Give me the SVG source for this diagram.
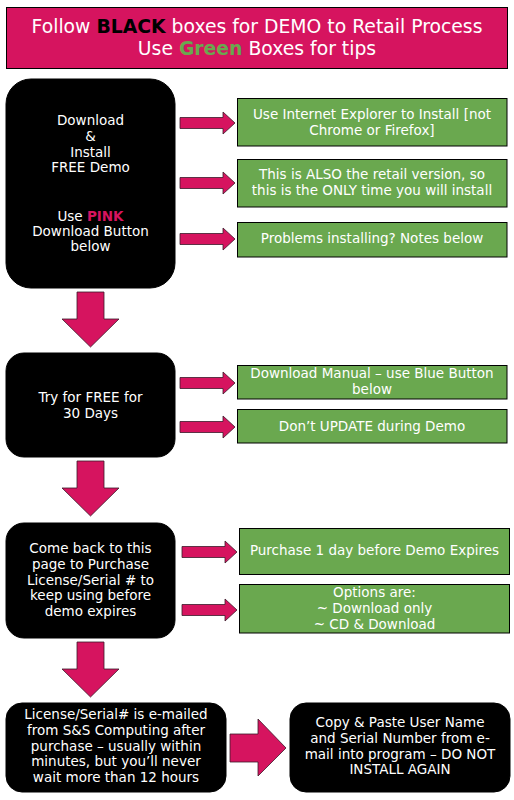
<svg xmlns="http://www.w3.org/2000/svg" width="514" height="800" viewBox="0 0 514 800">
<defs>
<style>
text{font-family:"DejaVu Sans","Verdana",sans-serif;font-size:13.5px;fill:#fff;text-anchor:middle}
.title{font-size:18.8px}
.blk{fill:#000;stroke:#000}
.grn{fill:#6AA84F;stroke:#000;stroke-width:1}
.arr{fill:#D6145F;stroke:#3a1a2a;stroke-width:0.8}
.b{font-weight:bold}
</style>
</defs>
<rect width="514" height="800" fill="#fff"/>
<g id="title">
<rect x="6.5" y="7.5" width="501" height="61" fill="#D6145F" stroke="#000" stroke-width="1"/>
<text class="title" x="257" y="33">Follow <tspan class="b" style="fill:#000">BLACK</tspan> boxes for DEMO to Retail Process</text>
<text class="title" x="257" y="55">Use <tspan class="b" style="fill:#6AA84F">Green</tspan> Boxes for tips</text>
</g>
<g id="connectors">
<path class="arr" d="M180,117.5H223V112L235,123L223,134V128.5H180Z"/>
<path class="arr" d="M180,177.5H223V172L235,183L223,194V188.5H180Z"/>
<path class="arr" d="M180,233.5H223V228L235,239L223,250V244.5H180Z"/>
<path class="arr" d="M77,292H104V319H119L90.5,347L62,319H77Z"/>
<path class="arr" d="M180,377.5H223V372L235,383L223,394V388.5H180Z"/>
<path class="arr" d="M180,421.5H223V416L235,427L223,438V432.5H180Z"/>
<path class="arr" d="M77,461H104V488H119L90.5,516L62,488H77Z"/>
<path class="arr" d="M182,546.5H225V541L237,552L225,563V557.5H182Z"/>
<path class="arr" d="M182,604.5H225V599L237,610L225,621V615.5H182Z"/>
<path class="arr" d="M77,642H104V669H119L90.5,697L62,669H77Z"/>
<path class="arr" d="M230,734H258V719L286,748L258,776V762H230Z"/>
</g>
<g id="n1">
<rect class="blk" x="6" y="79" width="169" height="209" rx="25"/>
<text x="90.5" y="125">Download</text>
<text x="90.5" y="141">&amp;</text>
<text x="90.5" y="157">Install</text>
<text x="90.5" y="172">FREE Demo</text>
<text x="90.5" y="221">Use <tspan class="b" style="fill:#D6145F">PINK</tspan></text>
<text x="90.5" y="236">Download Button</text>
<text x="90.5" y="251">below</text>
</g>
<g id="t1">
<rect class="grn" x="237.5" y="98.5" width="269.5" height="47.5"/>
<text x="372" y="119">Use Internet Explorer to Install [not</text>
<text x="372" y="135">Chrome or Firefox]</text>
</g>
<g id="t2">
<rect class="grn" x="237.5" y="159.5" width="269.5" height="47.5"/>
<text x="372" y="179">This is ALSO the retail version, so</text>
<text x="372" y="195">this is the ONLY time you will install</text>
</g>
<g id="t3">
<rect class="grn" x="237.5" y="222.5" width="269.5" height="34.5"/>
<text x="372" y="243">Problems installing? Notes below</text>
</g>
<g id="n2">
<rect class="blk" x="6" y="353" width="169" height="104" rx="18"/>
<text x="90.5" y="402">Try for FREE for</text>
<text x="90.5" y="418">30 Days</text>
</g>
<g id="t4">
<rect class="grn" x="237.5" y="365.5" width="269.5" height="33.5"/>
<text x="372" y="378">Download Manual – use Blue Button</text>
<text x="372" y="394">below</text>
</g>
<g id="t5">
<rect class="grn" x="237.5" y="409.5" width="269.5" height="33.5"/>
<text x="372" y="431">Don’t UPDATE during Demo</text>
</g>
<g id="n3">
<rect class="blk" x="6" y="523" width="169" height="115" rx="18"/>
<text x="90.5" y="553">Come back to this</text>
<text x="90.5" y="569">page to Purchase</text>
<text x="90.5" y="585">License/Serial # to</text>
<text x="90.5" y="600">keep using before</text>
<text x="90.5" y="616">demo expires</text>
</g>
<g id="t6">
<rect class="grn" x="239.5" y="528.5" width="270" height="46"/>
<text x="374.5" y="555">Purchase 1 day before Demo Expires</text>
</g>
<g id="t7">
<rect class="grn" x="239.5" y="584.5" width="270" height="48.5"/>
<text x="374.5" y="597">Options are:</text>
<text x="374.5" y="613">~ Download only</text>
<text x="374.5" y="629">~ CD &amp; Download</text>
</g>
<g id="n4">
<rect class="blk" x="6" y="703" width="220" height="89" rx="16"/>
<text x="116" y="719">License/Serial# is e-mailed</text>
<text x="116" y="735">from S&amp;S Computing after</text>
<text x="116" y="751">purchase – usually within</text>
<text x="116" y="766">minutes, but you’ll never</text>
<text x="116" y="782">wait more than 12 hours</text>
</g>
<g id="n5">
<rect class="blk" x="290" y="703" width="220" height="89" rx="16"/>
<text x="400" y="727">Copy &amp; Paste User Name</text>
<text x="400" y="743">and Serial Number from e-</text>
<text x="400" y="759">mail into program – DO NOT</text>
<text x="400" y="774">INSTALL AGAIN</text>
</g>
</svg>
